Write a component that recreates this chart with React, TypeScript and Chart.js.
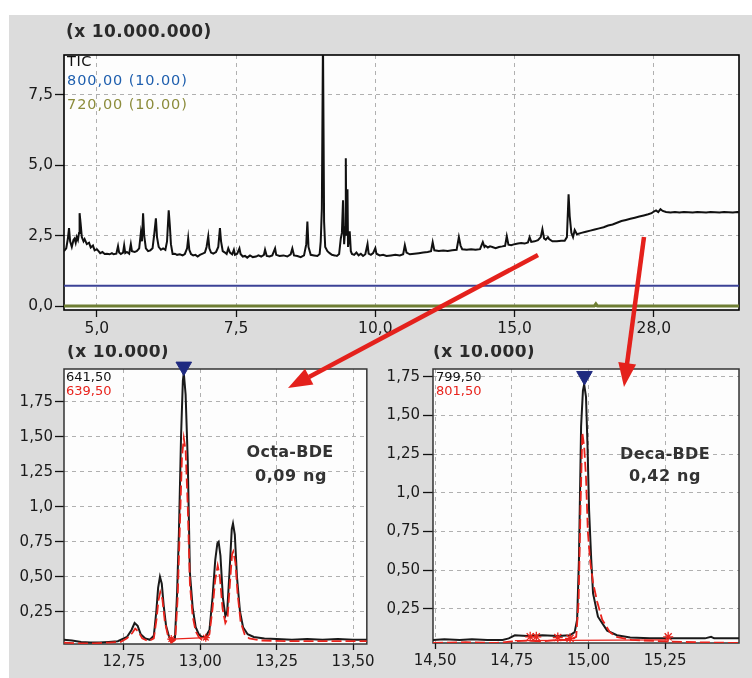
import React, { useEffect, useRef } from 'react';
import { Chart, registerables } from 'chart.js';
Chart.register(...registerables);

const FONT = '"DejaVu Sans", Verdana, sans-serif';

// ---------- Top panel: TIC chromatogram ----------
const TIC_X = [
  4.41, 4.45, 4.48, 4.50, 4.52, 4.55, 4.58, 4.60, 4.62, 4.64, 4.66, 4.68, 4.69, 4.71, 4.73, 4.76, 4.78, 4.82, 4.86, 4.89,
  4.93, 4.96, 5.00, 5.03, 5.06, 5.10, 5.14, 5.18, 5.23, 5.27, 5.30, 5.35, 5.38, 5.40, 5.43, 5.47, 5.49, 5.51, 5.54, 5.58,
  5.61, 5.63, 5.68, 5.72, 5.76, 5.79, 5.81, 5.83, 5.85, 5.88, 5.92, 5.96, 6.00, 6.03, 6.06, 6.08, 6.11, 6.15, 6.19, 6.23,
  6.26, 6.29, 6.31, 6.33, 6.36, 6.40, 6.44, 6.49, 6.54, 6.58, 6.62, 6.64, 6.66, 6.69, 6.73, 6.77, 6.81, 6.85, 6.90, 6.94,
  6.97, 7.00, 7.02, 7.05, 7.09, 7.14, 7.18, 7.21, 7.23, 7.26, 7.30, 7.33, 7.36, 7.39, 7.43, 7.46, 7.48, 7.52, 7.56, 7.58,
  7.62, 7.66, 7.70, 7.75, 7.80, 7.86, 7.90, 7.95, 8.00, 8.02, 8.05, 8.10, 8.15, 8.20, 8.22, 8.28, 8.35, 8.42, 8.48, 8.51,
  8.54, 8.60, 8.66, 8.72, 8.76, 8.78, 8.80, 8.84, 8.90, 8.96, 9.00, 9.02, 9.04, 9.06, 9.08, 9.10, 9.14, 9.18, 9.22, 9.27,
  9.31, 9.35, 9.38, 9.40, 9.42, 9.44, 9.46, 9.47, 9.48, 9.50, 9.51, 9.54, 9.56, 9.58, 9.62, 9.66, 9.70, 9.74, 9.78, 9.82,
  9.86, 9.88, 9.92, 9.96, 10.00, 10.02, 10.08, 10.14, 10.20, 10.28, 10.36, 10.44, 10.50, 10.53, 10.56, 10.62, 10.70, 10.78, 10.86, 10.94,
  11.00, 11.03, 11.06, 11.14, 11.22, 11.30, 11.38, 11.46, 11.50, 11.53, 11.56, 11.64, 11.72, 11.80, 11.88, 11.93, 11.96, 11.98, 12.02, 12.06,
  12.10, 12.16, 12.22, 12.28, 12.33, 12.36, 12.39, 12.44, 12.50, 12.56, 12.62, 12.68, 12.74, 12.77, 12.80, 12.86, 12.92, 12.97, 13.00, 13.03,
  13.06, 13.10, 13.12, 13.18, 13.26, 13.34, 13.40, 13.44, 13.47, 13.49, 13.52, 13.55, 13.58, 13.62, 13.70, 13.78, 13.86, 13.94, 14.02, 14.10,
  14.18, 14.26, 14.34, 14.42, 14.50, 14.58, 14.66, 14.74, 14.82, 14.90, 14.96, 15.00, 15.04, 15.08, 15.12, 15.16, 15.22, 15.30, 15.38, 15.46,
  15.54, 15.62, 15.70, 15.78, 15.86, 15.94, 16.02, 16.10, 16.18, 16.26, 16.34, 16.42, 16.50, 16.55,
];
const TIC_Y = [
  1.95, 2.05, 2.40, 2.77, 2.30, 2.10, 2.35, 2.40, 2.25, 2.45, 2.35, 2.60, 3.30, 2.90, 2.45, 2.30, 2.38, 2.20, 2.25, 2.08,
  2.15, 1.98, 2.02, 1.95, 1.88, 1.92, 1.85, 1.86, 1.84, 1.88, 1.84, 1.86, 2.13, 1.90, 1.85, 1.90, 2.16, 1.88, 1.92, 1.86,
  2.20, 1.95, 1.92, 1.96, 2.05, 2.60, 2.30, 3.30, 2.50, 2.05, 1.95, 1.98, 2.05, 2.55, 3.12, 2.45, 2.10, 2.00, 2.05, 2.00,
  2.30, 3.40, 2.87, 2.20, 1.85, 1.86, 1.82, 1.84, 1.80, 1.85, 2.05, 2.41, 2.00, 1.85, 1.80, 1.82, 1.76, 1.82, 1.86, 1.90,
  2.10, 2.48, 2.05, 1.90, 1.86, 1.92, 2.10, 2.77, 2.30, 1.95, 1.90, 1.85, 2.05, 1.90, 1.84, 2.00, 1.82, 1.86, 2.05, 1.85,
  1.76, 1.78, 1.72, 1.80, 1.74, 1.76, 1.80, 1.76, 1.82, 2.00, 1.78, 1.76, 1.80, 2.05, 1.82, 1.78, 1.80, 1.76, 1.84, 2.05,
  1.80, 1.78, 1.74, 1.80, 2.20, 3.00, 2.10, 1.82, 1.80, 1.78, 1.85, 2.30, 3.47, 9.50, 3.00, 2.10, 1.95, 1.88, 1.82, 1.80,
  1.78, 1.85, 2.40, 2.60, 3.76, 2.20, 2.80, 5.25, 2.50, 4.15, 2.10, 2.66, 1.95, 1.85, 1.82, 1.90, 1.80, 1.86, 1.78, 1.84,
  2.20, 1.86, 1.82, 1.88, 2.06, 1.86, 1.80, 1.82, 1.78, 1.80, 1.82, 1.80, 1.84, 2.16, 1.90, 1.84, 1.86, 1.88, 1.90, 1.92,
  1.95, 2.27, 1.98, 1.96, 1.97, 1.96, 1.98, 2.00, 2.45, 2.15, 2.02, 2.00, 2.02, 2.00, 2.02, 2.27, 2.10, 2.14, 2.08, 2.12,
  2.10, 2.06, 2.10, 2.12, 2.14, 2.48, 2.18, 2.16, 2.20, 2.22, 2.24, 2.22, 2.26, 2.45, 2.28, 2.30, 2.34, 2.45, 2.73, 2.40,
  2.36, 2.45, 2.38, 2.30, 2.30, 2.32, 2.32, 2.45, 3.97, 3.20, 2.60, 2.45, 2.70, 2.55, 2.60, 2.64, 2.68, 2.72, 2.76, 2.80,
  2.86, 2.90, 2.96, 3.02, 3.06, 3.10, 3.14, 3.18, 3.22, 3.26, 3.30, 3.36, 3.40, 3.34, 3.44, 3.38, 3.34, 3.32, 3.34, 3.32,
  3.34, 3.33, 3.32, 3.34, 3.33, 3.32, 3.34, 3.33, 3.32, 3.34, 3.33, 3.32, 3.34, 3.33,
];
const M800_X = [4.41, 16.55];
const M800_Y = [0.72, 0.72];
const M720_X = [4.41, 13.93, 13.96, 13.99, 16.55];
const M720_Y = [0.0, 0.0, 0.08, 0.0, 0.0];
const TOP_X_TICKS = [5, 7.5, 10, 12.5, 15];
const TOP_X_LABELS = ['5,0', '7,5', '10,0', '15,0', '28,0'];
const TOP_Y_TICKS = [0, 2.5, 5, 7.5];
const TOP_Y_LABELS = ['0,0', '2,5', '5,0', '7,5'];

// ---------- Bottom left: Octa-BDE ----------
const OCTA_BLACK_X = [
  12.554, 12.58, 12.61, 12.64, 12.67, 12.70, 12.73, 12.76, 12.775, 12.785, 12.795, 12.805, 12.82, 12.835, 12.848, 12.856,
  12.862, 12.868, 12.874, 12.880, 12.888, 12.898, 12.908, 12.917, 12.924, 12.930, 12.937, 12.943, 12.946, 12.952, 12.959,
  12.966, 12.975, 12.985, 12.995, 13.005, 13.017, 13.030, 13.040, 13.049, 13.056, 13.060, 13.066, 13.074, 13.082, 13.088,
  13.096, 13.103, 13.107, 13.113, 13.120, 13.130, 13.140, 13.155, 13.175, 13.21, 13.25, 13.30, 13.35, 13.40, 13.45, 13.50, 13.545,
];
const OCTA_641 = [
  0.05, 0.045, 0.035, 0.03, 0.03, 0.035, 0.04, 0.07, 0.12, 0.17, 0.15, 0.09, 0.06, 0.05, 0.08, 0.25,
  0.42, 0.50, 0.45, 0.30, 0.15, 0.07, 0.04, 0.06, 0.38, 0.81, 1.50, 1.90, 1.955, 1.80, 1.33,
  0.53, 0.28, 0.14, 0.09, 0.07, 0.07, 0.12, 0.35, 0.62, 0.74, 0.75, 0.65, 0.35, 0.22, 0.25,
  0.55, 0.84, 0.88, 0.80, 0.50, 0.25, 0.14, 0.09, 0.07, 0.06, 0.055, 0.05, 0.055, 0.05, 0.055, 0.05, 0.05,
];
const OCTA_RED_X = [
  12.554, 12.60, 12.65, 12.70, 12.74, 12.76, 12.778, 12.787, 12.797, 12.81, 12.83, 12.848, 12.857, 12.863, 12.869, 12.876,
  12.884, 12.895, 12.905, 12.918, 12.926, 12.933, 12.940, 12.946, 12.952, 12.959, 12.966, 12.975, 12.985, 12.995, 13.005,
  13.017, 13.030, 13.040, 13.049, 13.057, 13.064, 13.073, 13.082, 13.089, 13.097, 13.104, 13.108, 13.115, 13.122, 13.132,
  13.145, 13.16, 13.20, 13.30, 13.40, 13.50, 13.545,
];
const OCTA_639 = [
  0.03, 0.025, 0.025, 0.03, 0.035, 0.06, 0.10, 0.13, 0.11, 0.06, 0.04, 0.06, 0.20, 0.33, 0.39, 0.34,
  0.18, 0.07, 0.03, 0.05, 0.35, 0.85, 1.35, 1.49, 1.40, 1.00, 0.45, 0.22, 0.11, 0.07, 0.05,
  0.055, 0.09, 0.27, 0.48, 0.58, 0.50, 0.27, 0.17, 0.20, 0.45, 0.66, 0.68, 0.60, 0.38, 0.18,
  0.09, 0.06, 0.045, 0.04, 0.04, 0.04, 0.04,
];
const OCTA_BASE_X = [12.905, 13.018];
const OCTA_BASE_Y = [0.055, 0.065];
const OCTA_APEX = [{ x: 12.946, y: 2.0 }];

// ---------- Bottom right: Deca-BDE ----------
const DECA_BLACK_X = [
  14.493, 14.53, 14.58, 14.62, 14.67, 14.72, 14.74, 14.76, 14.80, 14.85, 14.90, 14.94, 14.955, 14.963, 14.969, 14.976,
  14.982, 14.986, 14.992, 14.997, 15.002, 15.009, 15.015, 15.031, 15.061, 15.093, 15.136, 15.20, 15.30, 15.38, 15.40, 15.41, 15.491,
];
const DECA_799 = [
  0.05, 0.055, 0.05, 0.055, 0.05, 0.05, 0.06, 0.08, 0.075, 0.08, 0.075, 0.08, 0.10, 0.18, 0.57, 1.43,
  1.66, 1.70, 1.62, 1.30, 0.89, 0.57, 0.35, 0.20, 0.11, 0.08, 0.065, 0.06, 0.06, 0.06, 0.07, 0.06, 0.06,
];
const DECA_RED_X = [
  14.493, 14.60, 14.70, 14.75, 14.80, 14.85, 14.90, 14.94, 14.96, 14.968, 14.974, 14.980, 14.986, 14.992, 14.998, 15.006,
  15.015, 15.028, 15.045, 15.07, 15.09, 15.14, 15.25, 15.35, 15.491,
];
const DECA_801 = [
  0.03, 0.035, 0.03, 0.04, 0.045, 0.04, 0.05, 0.05, 0.07, 0.30, 0.90, 1.39, 1.30, 1.10, 0.75, 0.55,
  0.42, 0.30, 0.18, 0.10, 0.07, 0.05, 0.04, 0.035, 0.03,
];
const DECA_BASE_X = [14.76, 15.26];
const DECA_BASE_Y = [0.045, 0.05];
const DECA_STARS_X = [14.81, 14.83, 14.90, 14.94, 15.26];
const DECA_STARS_Y = [0.07, 0.07, 0.065, 0.06, 0.07];
const DECA_APEX = [{ x: 14.987, y: 1.755 }];

const BOTTOM_Y_TICKS = [0.25, 0.5, 0.75, 1.0, 1.25, 1.5, 1.75];
const BOTTOM_Y_LABELS = ['0,25', '0,50', '0,75', '1,0', '1,25', '1,50', '1,75'];
const OCTA_X_TICKS = [12.75, 13.0, 13.25, 13.5];
const OCTA_X_LABELS = ['12,75', '13,00', '13,25', '13,50'];
const DECA_X_TICKS = [14.5, 14.75, 15.0, 15.25];
const DECA_X_LABELS = ['14,50', '14,75', '15,00', '15,25'];

const pts = (xs: number[], ys: number[]) => xs.map((x, i) => ({ x, y: ys[i] }));

const decoPlugin = {
  id: 'deco',
  beforeDraw(chart: any, _a: any, opts: any) {
    const { ctx, chartArea: a } = chart;
    ctx.save();
    ctx.fillStyle = opts.bg || '#fdfdfd';
    ctx.fillRect(a.left, a.top, a.right - a.left, a.bottom - a.top);
    ctx.restore();
  },
  beforeDatasetsDraw(chart: any, _a: any, opts: any) {
    const { ctx, chartArea: a } = chart;
    ctx.save();
    ctx.strokeStyle = opts.frameColor || '#000';
    ctx.lineWidth = opts.frameWidth || 1.5;
    ctx.strokeRect(a.left, a.top, a.right - a.left, a.bottom - a.top);
    ctx.restore();
  },
  afterDraw(chart: any, _a: any, opts: any) {
    const { ctx } = chart;
    (opts.texts || []).forEach((t: any) => {
      ctx.save();
      ctx.font = t.font;
      ctx.fillStyle = t.color;
      ctx.textAlign = t.align || 'left';
      ctx.textBaseline = 'middle';
      try { (ctx as any).letterSpacing = t.ls || '0px'; } catch (e) {}
      ctx.fillText(t.text, t.x, t.y);
      ctx.restore();
    });
  },
};

function axis(min: number, max: number, ticks: number[], labels: string[], opt: any) {
  return {
    type: 'linear',
    min,
    max,
    afterBuildTicks: (s: any) => { s.ticks = ticks.map((v) => ({ value: v })); },
    afterFit: (s: any) => {
      if (s.isHorizontal()) s.height = opt.fit; else s.width = opt.fit;
    },
    ticks: {
      callback: (_v: any, i: number) => labels[i],
      font: { family: FONT, size: opt.size },
      color: '#1a1a1a',
      padding: opt.pad,
      autoSkip: false,
      maxRotation: 0,
      minRotation: 0,
    },
    grid: {
      color: '#b0b0b0',
      lineWidth: 1,
      tickColor: '#111',
      tickLength: opt.tl,
      tickWidth: 1.3,
      drawTicks: true,
    },
    border: { display: false, dash: [4, 4] },
  };
}

const lineDs = (data: any, color: string, width: number, order: number, extra: any = {}) => ({
  data, borderColor: color, backgroundColor: color, borderWidth: width, pointRadius: 0,
  tension: 0, fill: false, order, ...extra,
});

function topConfig(): any {
  return {
    type: 'line',
    data: {
      datasets: [
        lineDs(pts(TIC_X, TIC_Y), '#111', 2, 0),
        lineDs(pts(M800_X, M800_Y), '#3b4296', 2, 1),
        lineDs(pts(M720_X, M720_Y), '#6f7e34', 3, 2),
      ],
    },
    plugins: [decoPlugin],
    options: {
      responsive: false,
      animation: false,
      layout: { padding: { left: 0, top: 40, right: 13, bottom: 0 } },
      scales: {
        x: axis(4.41, 16.53, TOP_X_TICKS, TOP_X_LABELS, { fit: 35, size: 15.5, pad: 3, tl: 7 }),
        y: axis(-0.14, 8.92, TOP_Y_TICKS, TOP_Y_LABELS, { fit: 55, size: 15.5, pad: 2, tl: 9 }),
      },
      plugins: {
        legend: { display: false },
        tooltip: { enabled: false },
        deco: {
          frameColor: '#000',
          frameWidth: 1.6,
          texts: [
            { text: '(x 10.000.000)', x: 57, y: 18, font: `bold 17px ${FONT}`, color: '#2a2a2a', ls: '0.4px' },
            { text: 'TIC', x: 58, y: 47.5, font: `14.5px ${FONT}`, color: '#111', ls: '0.6px' },
            { text: '800,00 (10.00)', x: 58, y: 66, font: `14.5px ${FONT}`, color: '#1f5fae', ls: '0.9px' },
            { text: '720,00 (10.00)', x: 58, y: 90.5, font: `14.5px ${FONT}`, color: '#8c8c3c', ls: '0.9px' },
          ],
        },
      },
    },
  };
}

function bottomConfig(kind: 'octa' | 'deca'): any {
  const octa = kind === 'octa';
  const datasets: any[] = [
    {
      data: octa ? OCTA_APEX : DECA_APEX, showLine: false, pointStyle: 'triangle', rotation: 180,
      pointRadius: 9, pointBackgroundColor: '#1f2a80', pointBorderColor: '#1f2a80', clip: false, order: 0,
    },
  ];
  if (octa) {
    datasets.push(lineDs(pts(OCTA_BASE_X, OCTA_BASE_Y), '#e8231c', 1.3, 1, {
      pointRadius: 4, pointStyle: 'star', pointBorderColor: '#e8231c', pointBorderWidth: 1.2,
    }));
    datasets.push(lineDs(pts(OCTA_RED_X, OCTA_639), '#e8231c', 1.8, 2, { borderDash: [10, 4] }));
    datasets.push(lineDs(pts(OCTA_BLACK_X, OCTA_641), '#1a1a1a', 2, 3));
  } else {
    datasets.push({
      data: pts(DECA_STARS_X, DECA_STARS_Y), showLine: false, pointStyle: 'star', pointRadius: 5,
      pointBorderColor: '#e8231c', pointBorderWidth: 1.3, order: 1,
    });
    datasets.push(lineDs(pts(DECA_BASE_X, DECA_BASE_Y), '#e8231c', 1.3, 2));
    datasets.push(lineDs(pts(DECA_RED_X, DECA_801), '#e8231c', 1.8, 3, { borderDash: [10, 4] }));
    datasets.push(lineDs(pts(DECA_BLACK_X, DECA_799), '#1a1a1a', 2, 4));
  }
  const texts = octa
    ? [
        { text: '(x 10.000)', x: 58, y: 8, font: `bold 17px ${FONT}`, color: '#2a2a2a', ls: '0.4px' },
        { text: '641,50', x: 57, y: 33, font: `13px ${FONT}`, color: '#111' },
        { text: '639,50', x: 57, y: 47, font: `13px ${FONT}`, color: '#e8231c' },
        { text: 'Octa-BDE', x: 281, y: 108, font: `bold 16px ${FONT}`, color: '#333', align: 'center', ls: '0.3px' },
        { text: '0,09 ng', x: 282, y: 132, font: `bold 16px ${FONT}`, color: '#333', align: 'center', ls: '0.6px' },
      ]
    : [
        { text: '(x 10.000)', x: 55, y: 8, font: `bold 17px ${FONT}`, color: '#2a2a2a', ls: '0.4px' },
        { text: '799,50', x: 58, y: 33, font: `13px ${FONT}`, color: '#111' },
        { text: '801,50', x: 58, y: 47, font: `13px ${FONT}`, color: '#e8231c' },
        { text: 'Deca-BDE', x: 287, y: 110, font: `bold 16px ${FONT}`, color: '#333', align: 'center', ls: '0.3px' },
        { text: '0,42 ng', x: 287, y: 132, font: `bold 16px ${FONT}`, color: '#333', align: 'center', ls: '0.6px' },
      ];
  return {
    type: 'line',
    data: { datasets },
    plugins: [decoPlugin],
    options: {
      responsive: false,
      animation: false,
      layout: { padding: { left: 0, top: 24, right: octa ? 6 : 13, bottom: 0 } },
      scales: {
        x: octa
          ? axis(12.554, 13.545, OCTA_X_TICKS, OCTA_X_LABELS, { fit: 34, size: 15, pad: 3, tl: 6 })
          : axis(14.493, 15.491, DECA_X_TICKS, DECA_X_LABELS, { fit: 35, size: 15, pad: 3, tl: 6 }),
        y: octa
          ? axis(0.02, 1.983, BOTTOM_Y_TICKS, BOTTOM_Y_LABELS, { fit: 55, size: 15, pad: 2, tl: 9 })
          : axis(0.03, 1.80, BOTTOM_Y_TICKS, BOTTOM_Y_LABELS, { fit: 55, size: 15, pad: 3, tl: 10 }),
      },
      plugins: {
        legend: { display: false },
        tooltip: { enabled: false },
        deco: { frameColor: '#333', frameWidth: 1.5, texts },
      },
    },
  };
}

function Panel({ make, left, top, width, height }: any) {
  const ref = useRef<HTMLCanvasElement>(null);
  useEffect(() => {
    const chart = new Chart(ref.current as HTMLCanvasElement, make());
    return () => chart.destroy();
  }, []);
  return (
    <canvas
      ref={ref}
      width={width}
      height={height}
      style={{ position: 'absolute', left, top, width, height }}
    />
  );
}

export default function App() {
  return (
    <div style={{ position: 'absolute', left: 0, top: 0, width: 752, height: 678, background: '#ffffff', overflow: 'hidden' }}>
      <div style={{ position: 'absolute', left: 9, top: 15, width: 743, height: 663, background: '#dcdcdc' }} />
      <Panel make={topConfig} left={9} top={15} width={743} height={330} />
      <Panel make={() => bottomConfig('octa')} left={9} top={345} width={369} height={333} />
      <Panel make={() => bottomConfig('deca')} left={378} top={345} width={374} height={333} />
      <svg width={752} height={678} style={{ position: 'absolute', left: 0, top: 0, pointerEvents: 'none' }}>
        <line x1={538} y1={255} x2={309} y2={377} stroke="#e4211c" strokeWidth={4.5} />
        <polygon points="288,388 313.4,384.6 305,368.7" fill="#e4211c" />
        <line x1={644} y1={237} x2={627} y2={364} stroke="#e4211c" strokeWidth={4.5} />
        <polygon points="624,387 636.1,364.4 618.3,362" fill="#e4211c" />
      </svg>
    </div>
  );
}
